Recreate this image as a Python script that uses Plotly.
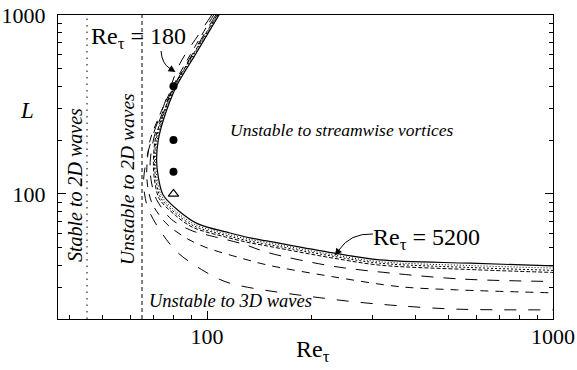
import math
import plotly.graph_objects as go

# ---- data (Re_tau, L) ----
re_5200 = [108.3, 92.5, 81.4, 74.8, 72.3, 71.5, 72.3, 74.7, 83.6, 94.2, 116.5, 133.2, 149, 231, 316, 575, 1000]
L_5200 = [1000, 600, 396, 259, 200, 155, 125, 98.7, 79.3, 68, 60.5, 56.8, 54.6, 46.8, 42.8, 41.0, 39.6]

re_c2 = [108.0, 92.0, 81.0, 74.4, 71.8, 71.0, 71.8, 74.0, 82.5, 93, 115, 132, 148, 230, 316, 575, 1000]
L_c2 = [1000, 600, 396, 259, 200, 152, 122, 97, 78, 67, 59.5, 55.8, 53.6, 45.8, 41.8, 39.8, 38.5]

re_c3 = [107.5, 91.5, 80.6, 74.0, 71.3, 70.5, 71.2, 73.4, 81.8, 92, 114, 131, 147, 229, 316, 575, 1000]
L_c3 = [1000, 600, 396, 259, 200, 150, 120, 95.5, 77, 66, 58.5, 54.8, 52.6, 45.0, 41.0, 38.8, 37.4]

re_c4 = [107.0, 91.0, 80.2, 73.6, 70.8, 70.0, 70.6, 72.8, 81.0, 91, 113, 130, 146, 228, 316, 575, 1000]
L_c4 = [1000, 600, 396, 259, 200, 148, 118, 94, 76, 65, 57.5, 53.8, 51.6, 44.0, 40.0, 37.8, 36.4]

re_c5 = [106.0, 90.5, 80.0, 73.0, 70.0, 68.5, 69.0, 71.5, 79.0, 91, 100, 127, 150, 230, 345, 551, 1000]
L_c5 = [1000, 600, 396, 259, 200, 150, 118, 93, 72, 62, 59, 52.5, 47, 39.5, 36.0, 33.4, 32.4]

re_c6 = [104.5, 89.5, 79.5, 72.0, 68.5, 67.0, 67.3, 69.5, 76.5, 88, 100, 127, 150, 230, 361, 527, 1000]
L_c6 = [1000, 600, 396, 259, 200, 140, 112, 88, 68, 56, 50, 43.5, 40, 34.5, 30.3, 29.1, 28.0]

re_180 = [103.2, 94.4, 83.6, 74.8, 69.5, 67.0, 65.6, 66.0, 67.5, 72.0, 81.7, 98.7, 116.5, 237, 361, 527, 1000]
L_180 = [1000, 773, 537, 307, 208, 160, 120, 100, 83.2, 65.6, 47.6, 36.8, 31.7, 25.6, 23.7, 22.7, 22.5]

dns_re = [80, 80, 80]
dns_L = [400, 200, 133]
tri_re = [80]
tri_L = [100]

re_stable2d = 45.0
re_unstable2d = 64.9

x_major = [100, 1000]
y_major = [100, 1000]
x_minor = [40, 50, 60, 70, 80, 90, 200, 300, 400, 500, 600, 700, 800, 900]
y_minor = [20, 30, 40, 50, 60, 70, 80, 90, 200, 300, 400, 500, 600, 700, 800, 900]

# ---- layout geometry (pixels) ----
W, H = 577, 370
PL, PR, PT, PB = 58, 553, 15, 319
XR = [math.log10(37.1), 3]
YR = [math.log10(20), 3]


def px(xp):
    return (xp - PL) / (PR - PL)


def py(yp):
    return (PB - yp) / (PB - PT)


FONT = "Liberation Serif"
fig = go.Figure()

curves = [
    (re_180, L_180, "12px,12px", 1.0),
    (re_c6, L_c6, "8px,7px", 1.0),
    (re_c5, L_c5, "12px,10px", 1.0),
    (re_c4, L_c4, "4px,2px", 1.0),
    (re_c3, L_c3, "2px,2px", 1.0),
    (re_c2, L_c2, "1px,2px", 1.0),
    (re_5200, L_5200, "solid", 1.2),
]
for xs, ys, dash, w in curves:
    fig.add_trace(go.Scatter(x=xs, y=ys, mode="lines",
                             line=dict(color="black", width=w, dash=dash,
                                       shape="spline", smoothing=0.9),
                             hoverinfo="skip", showlegend=False))

# vertical boundaries
fig.add_trace(go.Scatter(x=[re_stable2d, re_stable2d], y=[20, 1000], mode="lines",
                         line=dict(color="black", width=1, dash="1.5px,5px"),
                         showlegend=False))
fig.add_trace(go.Scatter(x=[re_unstable2d, re_unstable2d], y=[20, 1000], mode="lines",
                         line=dict(color="black", width=1, dash="4px,3px"),
                         showlegend=False))

fig.add_trace(go.Scatter(x=dns_re, y=dns_L, mode="markers",
                         marker=dict(symbol="circle", size=8, color="black"),
                         showlegend=False))
fig.add_trace(go.Scatter(x=tri_re, y=tri_L, mode="markers",
                         marker=dict(symbol="triangle-up-open", size=9, color="black",
                                     line=dict(width=1.2, color="black")),
                         showlegend=False))

# invisible trace that carries the minor-tick overlay axes
fig.add_trace(go.Scatter(x=[100], y=[100], xaxis="x2", yaxis="y2", mode="markers",
                         marker=dict(opacity=0), hoverinfo="skip", showlegend=False))

ann = []
shapes = []


def text(xp, yp, s, size=22, italic=False, angle=0):
    ann.append(dict(x=px(xp), y=py(yp), xref="paper", yref="paper", text=s,
                    showarrow=False, textangle=angle,
                    font=dict(family=FONT, size=size, color="black",
                              style="italic" if italic else "normal"),
                    xanchor="center", yanchor="middle"))


def curved_arrow(x0, y0, cx, cy, x1, y1, hx, hy):
    # curved shaft (quadratic) in paper coordinates, then an arrowhead at (hx, hy)
    shapes.append(dict(type="path", xref="paper", yref="paper",
                       path=f"M {px(x0)},{py(y0)} Q {px(cx)},{py(cy)} {px(x1)},{py(y1)}",
                       line=dict(color="black", width=1)))
    ann.append(dict(x=px(hx), y=py(hy), xref="paper", yref="paper",
                    ax=x1 - hx, ay=y1 - hy, axref="pixel", ayref="pixel",
                    text="", showarrow=True, arrowhead=2, arrowsize=1.4,
                    arrowwidth=1, arrowcolor="black"))


text(138.5, 38, "Re<sub>τ</sub> = 180", size=24)
curved_arrow(161, 51, 162, 64, 170, 68.5, 175.5, 72)
text(426, 239, "Re<sub>τ</sub> = 5200", size=24)
curved_arrow(373, 234, 350, 233, 339, 250, 335, 255.5)
text(342, 130, "Unstable to streamwise vortices", size=17.5, italic=True)
text(230, 301, "Unstable to 3D waves", size=18.5, italic=True)
text(75, 185, "Stable to 2D waves", size=20, italic=True, angle=-90)
text(127, 179, "Unstable to 2D waves", size=19.5, italic=True, angle=-90)
text(27, 110, "L", size=23, italic=True)
text(313, 351, "Re<sub>τ</sub>", size=24)

base = dict(type="log", showgrid=False, zeroline=False, automargin=False,
            tickcolor="black", ticks="inside", tickwidth=1.2)

fig.update_layout(
    template="none",
    width=W, height=H,
    margin=dict(l=PL, r=W - PR, t=PT, b=H - PB, autoexpand=False),
    paper_bgcolor="white", plot_bgcolor="white",
    font=dict(family=FONT, size=22, color="black"),
    annotations=ann,
    shapes=shapes,
    showlegend=False,
    xaxis=dict(range=XR, mirror=True, showline=True, linecolor="black", linewidth=1.2,
               ticklen=8, tickvals=x_major, ticktext=[str(v) for v in x_major],
               tickfont=dict(family=FONT, size=22, color="black"),
               ticklabelstandoff=-3, **base),
    yaxis=dict(range=YR, mirror="ticks", showline=True, linecolor="black", linewidth=1.2,
               ticklen=8, tickvals=y_major, ticktext=[str(v) for v in y_major],
               tickfont=dict(family=FONT, size=22, color="black"),
               ticklabelstandoff=7, **base),
    xaxis2=dict(range=XR, overlaying="x", anchor="y", side="bottom", showline=False,
                ticklen=4, tickvals=x_minor, showticklabels=False, **base),
    yaxis2=dict(range=YR, overlaying="y", anchor="x", side="left", showline=True,
                linecolor="black", linewidth=1.2, mirror="ticks",
                ticklen=4, tickvals=y_minor, showticklabels=False, **base),
)

fig.write_html("out.html")
